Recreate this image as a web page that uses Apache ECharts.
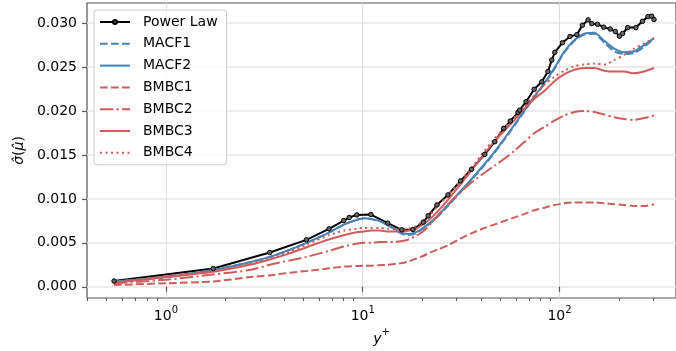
<!DOCTYPE html>
<html><head><meta charset="utf-8">
<script src="https://cdn.jsdelivr.net/npm/echarts@6/dist/echarts.min.js"></script>
<style>html,body{margin:0;padding:0;background:#fff}#c{width:676px;height:351px}</style>
</head><body><div id="c"></div>
<script>
// ---- data ----
const plX = [0.545, 1.74, 3.37, 5.17, 6.74, 8.0, 8.53, 9.33, 11.0, 13.4, 15.8, 18.0, 20.3, 21.5, 23.8, 27.1, 31.4, 35.7, 41.7, 46.9, 52.0, 56.2, 61.5, 62.7, 67.6, 74.3, 81.3, 87.3, 91.3, 94.6, 103.5, 113, 122.5, 130.6, 139.7, 145.9, 156, 167.8, 180.9, 192.2, 201.5, 209.2, 222, 244.3, 264, 281.6, 294, 302];
const powerLaw = [0.00065, 0.00208, 0.0039, 0.00534, 0.00659, 0.00753, 0.00788, 0.00818, 0.00822, 0.00724, 0.00648, 0.00652, 0.00735, 0.00807, 0.0093, 0.01045, 0.01205, 0.01337, 0.01508, 0.01651, 0.01803, 0.01886, 0.01985, 0.0201, 0.02106, 0.02248, 0.02333, 0.0245, 0.0258, 0.02668, 0.02778, 0.02849, 0.0287, 0.02977, 0.03038, 0.02995, 0.02988, 0.02955, 0.02934, 0.02905, 0.02852, 0.02883, 0.0295, 0.0295, 0.03022, 0.03075, 0.0308, 0.03042];

const yPlus = [0.545, 1.0, 1.735, 2.67, 3.37, 4.25, 5.18, 6.78, 8.07, 9.28, 10.2, 11.05, 12.13, 13.32, 14.62, 15.86, 17.21, 18.67, 20.26, 21.98, 23.85, 27.1, 31.5, 35.85, 41.7, 46.9, 52.6, 59.2, 66.45, 74.6, 83.9, 94.2, 105.9, 119, 133.7, 150.2, 168.7, 189.6, 213, 239.3, 268.9, 302];
const macf1 = [0.0006, 0.0011, 0.0019, 0.0028, 0.0034, 0.0042, 0.0050, 0.0062, 0.0071, 0.0076, 0.0078, 0.0077, 0.0075, 0.0070, 0.0065, 0.0060, 0.0059, 0.0061, 0.0066, 0.0072, 0.0079, 0.0092, 0.0108, 0.0122, 0.0139, 0.0153, 0.0168, 0.0184, 0.0200, 0.0216, 0.0231, 0.0248, 0.0267, 0.0280, 0.0287, 0.0288, 0.0278, 0.0268, 0.0265, 0.0266, 0.0273, 0.0283];
const macf2 = [0.0006, 0.0011, 0.0019, 0.0028, 0.0034, 0.0042, 0.0050, 0.0062, 0.0071, 0.0076, 0.0078, 0.0077, 0.0075, 0.0071, 0.0066, 0.0061, 0.0060, 0.0062, 0.0067, 0.0073, 0.0080, 0.0093, 0.0109, 0.0123, 0.0140, 0.0154, 0.0169, 0.0185, 0.0201, 0.0217, 0.0232, 0.0249, 0.0268, 0.0281, 0.0288, 0.0289, 0.0280, 0.0271, 0.0267, 0.0268, 0.0275, 0.0283];
const bmbc1 = [0.0002, 0.0004, 0.0006, 0.0011, 0.0013, 0.0016, 0.0018, 0.0021, 0.0023, 0.00235, 0.0024, 0.0024, 0.00245, 0.0025, 0.0026, 0.0027, 0.0029, 0.0032, 0.0035, 0.0039, 0.0042, 0.0047, 0.0055, 0.0061, 0.0067, 0.0071, 0.0075, 0.0079, 0.0083, 0.0087, 0.0090, 0.0093, 0.0095, 0.0096, 0.0096, 0.0096, 0.0095, 0.0094, 0.0093, 0.0092, 0.0092, 0.0094];
const bmbc2 = [0.0004, 0.0008, 0.0014, 0.0019, 0.0025, 0.0030, 0.0034, 0.0041, 0.0046, 0.0049, 0.0050, 0.0050, 0.0051, 0.0051, 0.0051, 0.0052, 0.0054, 0.0058, 0.0063, 0.0071, 0.0080, 0.0094, 0.0108, 0.0119, 0.0130, 0.0138, 0.0146, 0.0155, 0.0165, 0.0175, 0.0182, 0.0189, 0.0195, 0.0199, 0.0200, 0.0199, 0.0196, 0.0193, 0.0191, 0.0190, 0.0192, 0.0195];
const bmbc3 = [0.00045, 0.0011, 0.0017, 0.0025, 0.0031, 0.0038, 0.0045, 0.0054, 0.0059, 0.0062, 0.0063, 0.0064, 0.0064, 0.0063, 0.0063, 0.0063, 0.0064, 0.0066, 0.0071, 0.0077, 0.0085, 0.0099, 0.0117, 0.0133, 0.0152, 0.0166, 0.0178, 0.0190, 0.0203, 0.0214, 0.0223, 0.0234, 0.0242, 0.0247, 0.0249, 0.0249, 0.0246, 0.0245, 0.0245, 0.0243, 0.0245, 0.0249];
const bmbc4 = [0.0005, 0.0012, 0.0018, 0.0026, 0.0032, 0.0040, 0.0048, 0.0059, 0.0064, 0.0066, 0.0067, 0.0067, 0.0067, 0.0066, 0.0066, 0.0065, 0.0066, 0.0069, 0.0075, 0.0082, 0.0091, 0.0104, 0.0121, 0.0136, 0.0155, 0.0169, 0.0181, 0.0193, 0.0205, 0.0218, 0.0230, 0.0239, 0.0246, 0.0251, 0.0253, 0.0254, 0.0253, 0.0258, 0.0264, 0.0271, 0.0277, 0.0283];

const seriesNames = ['Power Law', 'MACF1', 'MACF2', 'BMBC1', 'BMBC2', 'BMBC3', 'BMBC4'];
const xMajorTicks = [1, 10, 100];
const xMajorExp = ['0', '1', '2'];
const xMinorTicks = [0.4, 0.5, 0.6, 0.7, 0.8, 0.9, 2, 3, 4, 5, 6, 7, 8, 9, 20, 30, 40, 50, 60, 70, 80, 90, 200, 300];
const yTicks = [0, 0.005, 0.01, 0.015, 0.02, 0.025, 0.03];

// ---- chart ----
const F = 'DejaVu Sans';
const blue = '#4682b4', red = '#cd5c5c';
const pairs = (xs, ys) => xs.map((x, i) => [x, ys[i]]);
const dash = [7.7, 3.3], dashdot = [13.3, 3.3, 2.1, 3.3], dot = [2.1, 3.4];
const XMIN = 0.397, XMAX = 390.7;
const supRich = {
  b: { fontFamily: F, fontSize: 14, color: '#000', lineHeight: 18, verticalAlign: 'bottom' },
  i: { fontFamily: F, fontSize: 14, color: '#000', fontStyle: 'italic', lineHeight: 18, verticalAlign: 'bottom' },
  s: { fontFamily: F, fontSize: 10, color: '#000', lineHeight: 10, verticalAlign: 'top' }
};

function modelSeries(name, ys, color, type) {
  return {
    name, type: 'line', data: pairs(yPlus, ys), symbol: 'none', showSymbol: false,
    smooth: 0.25, lineStyle: { color, width: 2, type }, itemStyle: { color }
  };
}
const hiddenSym = { color: 'rgba(0,0,0,0)', borderWidth: 0, borderColor: 'rgba(0,0,0,0)', opacity: 0 };

const chart = echarts.init(document.getElementById('c'), null, { renderer: 'canvas' });
chart.setOption({
  animation: false,
  grid: { left: 87, right: -2, top: 3, bottom: 53, show: true, borderColor: '#555', borderWidth: 1.2, backgroundColor: 'rgba(0,0,0,0)' },
  legend: {
    orient: 'vertical', left: 94, top: 10, padding: [5, 9, 5, 5],
    itemWidth: 30, itemHeight: 5, itemGap: 7.8,
    backgroundColor: 'rgba(255,255,255,0.8)', borderColor: '#cccccc', borderWidth: 1, borderRadius: 3,
    data: seriesNames.map((n, i) => i === 0 ? { name: n } : { name: n, itemStyle: hiddenSym }),
    textStyle: { fontFamily: F, fontSize: 14, color: '#000', lineHeight: 14, padding: [0, 0, 0, 8] }
  },
  xAxis: [{
    type: 'log', logBase: 10, min: XMIN, max: XMAX,
    axisLine: { show: false },
    axisTick: { customValues: xMajorTicks, length: 5, lineStyle: { color: '#555', width: 1.2 } },
    axisLabel: {
      customValues: xMajorTicks, margin: 7, rich: supRich,
      formatter: v => '{b|10}{s|' + (xMajorExp[Math.round(Math.log10(v))] || '') + '}'
    },
    splitLine: { show: true, lineStyle: { color: '#dcdcdc', width: 1 } },
    name: '{i|y}{s|+}', nameLocation: 'middle', nameGap: 27,
    nameTextStyle: { fontFamily: F, fontSize: 14, color: '#000', rich: supRich }
  }, {
    type: 'log', logBase: 10, min: XMIN, max: XMAX, position: 'bottom',
    axisLine: { show: false },
    axisTick: { customValues: xMinorTicks, length: 3, lineStyle: { color: '#555', width: 1 } },
    axisLabel: { show: false }, splitLine: { show: false }
  }],
  yAxis: {
    type: 'value', min: -0.00128, max: 0.0323,
    axisLine: { show: false },
    axisTick: { customValues: yTicks, length: 5, lineStyle: { color: '#555', width: 1.2 } },
    axisLabel: { customValues: yTicks, fontFamily: F, fontSize: 14, color: '#000', margin: 10, formatter: v => v.toFixed(3) },
    splitLine: { show: true, lineStyle: { color: '#e6e6e6', width: 1.5 } },
    name: '{i|σ̂}({i|μ̂})', nameLocation: 'middle', nameGap: 60,
    nameTextStyle: { fontFamily: F, fontSize: 14, color: '#000', rich: { i: { fontFamily: F, fontSize: 14, fontStyle: 'italic', color: '#000' } } }
  },
  series: [
    {
      name: 'Power Law', type: 'line', data: pairs(plX, powerLaw),
      symbol: 'circle', symbolSize: 4.5, showSymbol: true,
      lineStyle: { color: '#000', width: 2 },
      itemStyle: { color: '#666', borderColor: '#000', borderWidth: 1 }
    },
    modelSeries('MACF1', macf1, blue, dash),
    modelSeries('MACF2', macf2, blue, 'solid'),
    modelSeries('BMBC1', bmbc1, red, dash),
    modelSeries('BMBC2', bmbc2, red, dashdot),
    modelSeries('BMBC3', bmbc3, red, 'solid'),
    modelSeries('BMBC4', bmbc4, red, dot)
  ]
});
</script>
</body></html>
